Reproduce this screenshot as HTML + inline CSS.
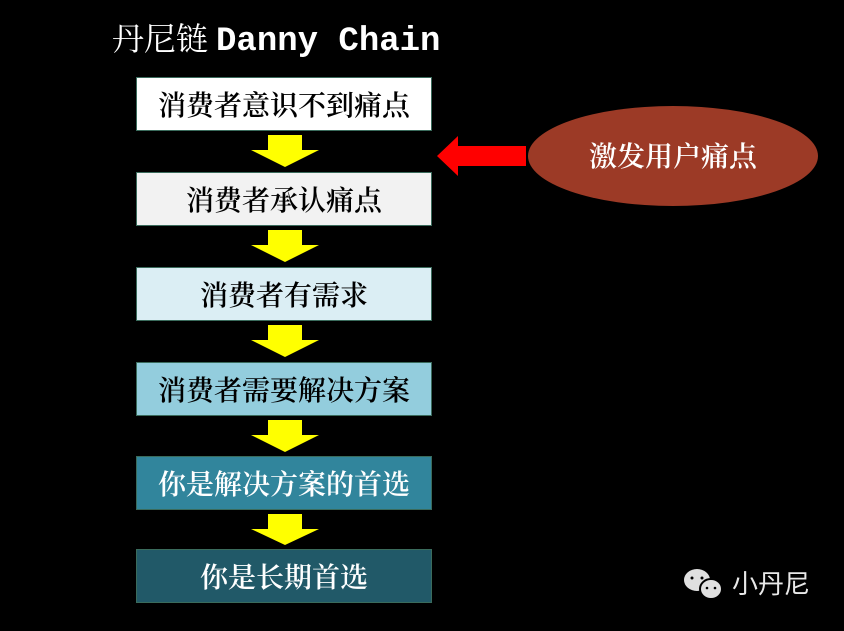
<!DOCTYPE html>
<html><head><meta charset="utf-8"><style>
body{margin:0;width:844px;height:631px;background:#000;overflow:hidden;position:relative;font-family:"Liberation Serif","Noto Serif CJK SC",serif}
.t{position:absolute;left:112px;top:14px;color:#fff;font-size:32px;white-space:nowrap}
.t b{font-family:"Liberation Mono",monospace;font-weight:bold;font-size:34px}
.bx{position:absolute;left:136px;width:296px;height:54px;box-sizing:border-box;border:1px solid #3a6b5c;display:flex;align-items:center;justify-content:center;font-size:28px;font-weight:600;font-family:"Noto Serif CJK SC",serif}
</style></head><body>
<div class="t">丹尼链 <b>Danny Chain</b></div>
<div class="bx" style="top:77px;background:#fff;color:#000">消费者意识不到痛点</div>
<div class="bx" style="top:172px;background:#f2f2f2;color:#000">消费者承认痛点</div>
<div class="bx" style="top:267px;background:#dbeef4;color:#000">消费者有需求</div>
<div class="bx" style="top:362px;background:#93cddd;color:#000">消费者需要解决方案</div>
<div class="bx" style="top:456px;background:#31859c;color:#fff">你是解决方案的首选</div>
<div class="bx" style="top:549px;background:#215968;color:#fff">你是长期首选</div>
<svg width="844" height="631" style="position:absolute;left:0;top:0">
<g fill="#ffff00">
<polygon points="268,135 302,135 302,150 319,150 285,167 251,150 268,150"/>
<polygon points="268,230 302,230 302,245 319,245 285,262 251,245 268,245"/>
<polygon points="268,325 302,325 302,340 319,340 285,357 251,340 268,340"/>
<polygon points="268,420 302,420 302,435 319,435 285,452 251,435 268,435"/>
<polygon points="268,514 302,514 302,529 319,529 285,545 251,529 268,529"/>
</g>
<polygon fill="#ff0000" points="437,156 458,136 458,146 526,146 526,166 458,166 458,176"/>
<ellipse cx="673" cy="156" rx="145" ry="50" fill="#9c3a26"/>
<text x="673" y="166" fill="#fff" font-size="28" font-weight="600" text-anchor="middle" font-family="Noto Serif CJK SC,serif">激发用户痛点</text>
<g fill="#e0e0e0">
<ellipse cx="697" cy="580" rx="13" ry="11"/><ellipse cx="711" cy="589" rx="11" ry="10" stroke="#000" stroke-width="2"/>
</g>
<g fill="#000"><circle cx="692" cy="578" r="1.5"/><circle cx="702" cy="578" r="1.5"/><circle cx="707" cy="588" r="1.3"/><circle cx="715" cy="588" r="1.3"/></g>
<text x="732" y="593" fill="#e8e8e8" font-size="26" font-family="Noto Sans CJK SC,sans-serif">小丹尼</text>
</svg>
</body></html>
